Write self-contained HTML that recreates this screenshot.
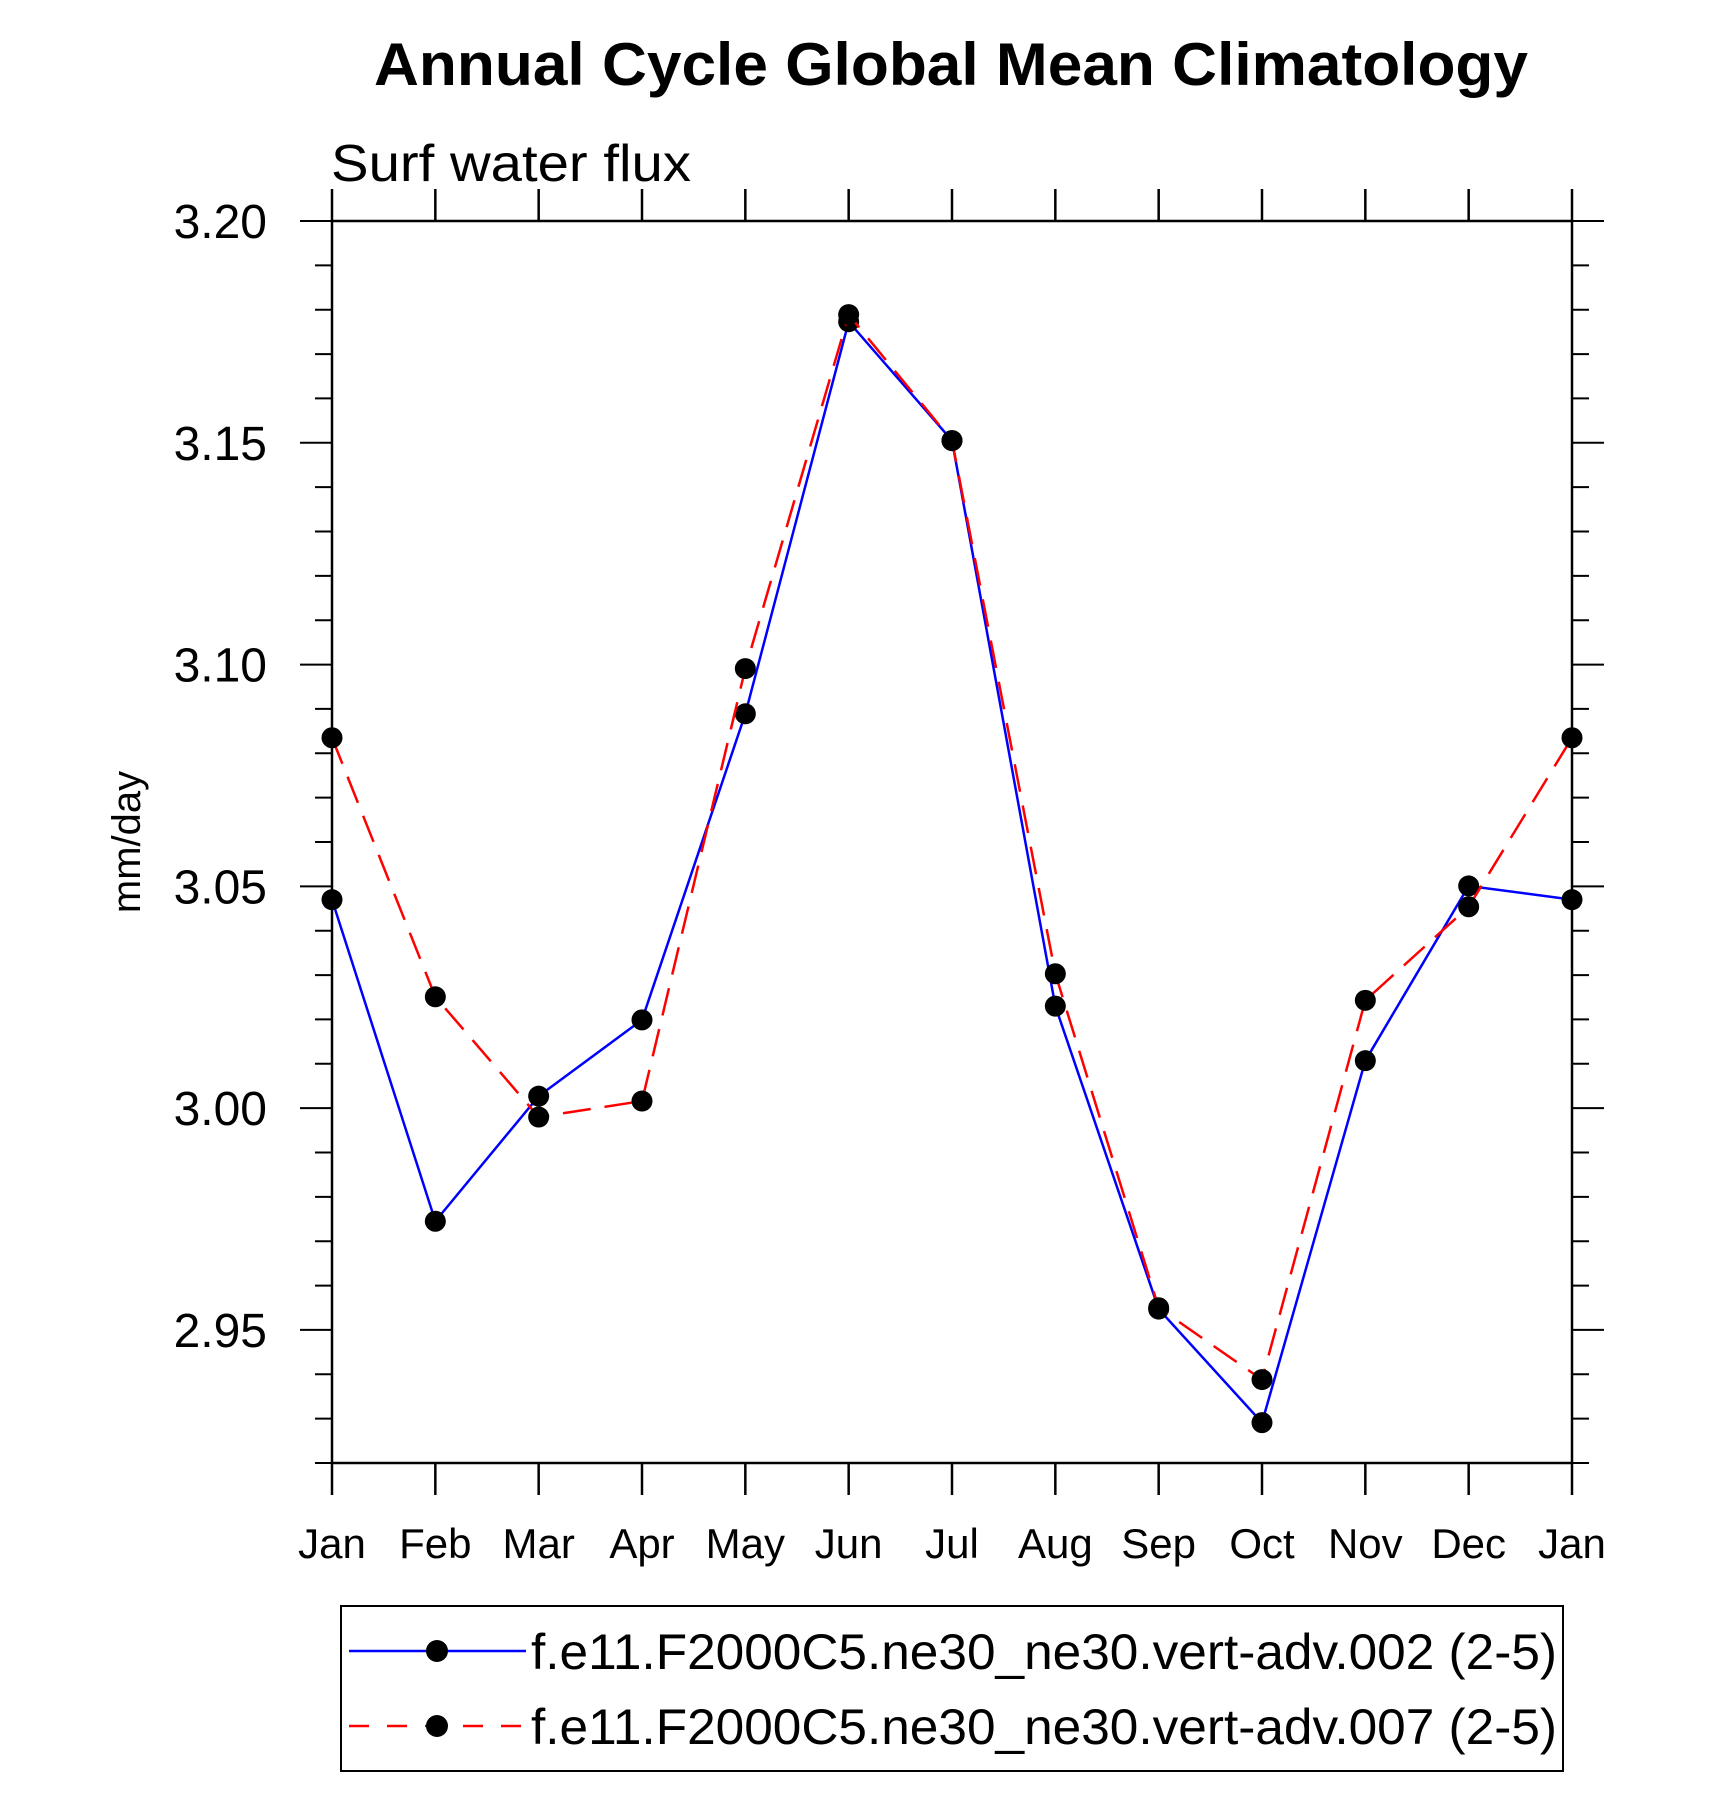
<!DOCTYPE html>
<html><head><meta charset="utf-8"><style>
html,body{margin:0;padding:0;background:#fff;}
svg{display:block;font-family:"Liberation Sans",sans-serif;}
</style></head><body>
<svg id="chart" width="1710" height="1813" viewBox="0 0 1710 1813" xmlns="http://www.w3.org/2000/svg">
<text x="951" y="85" text-anchor="middle" font-size="60" font-weight="bold" textLength="1154" lengthAdjust="spacingAndGlyphs">Annual Cycle Global Mean Climatology</text>
<text x="331" y="181" font-size="52" textLength="360" lengthAdjust="spacingAndGlyphs">Surf water flux</text>
<text transform="translate(140,842) rotate(-90)" text-anchor="middle" font-size="40">mm/day</text>
<g id="axes"></g>
<g id="series"></g>
<g>
<rect x="341" y="1606" width="1222" height="165" fill="none" stroke="#000" stroke-width="2"/>
<g>
<line x1="349" y1="1651" x2="526" y2="1651" stroke="#0000ff" stroke-width="2.5"/>
<circle cx="437" cy="1651" r="11" fill="#000"/>
<text x="531" y="1669" font-size="50" textLength="1026" lengthAdjust="spacingAndGlyphs">f.e11.F2000C5.ne30_ne30.vert-adv.002 (2-5)</text>
</g>
<g>
<line x1="349" y1="1726" x2="526" y2="1726" stroke="#ff0000" stroke-width="2.5" stroke-dasharray="20,18"/>
<circle cx="437" cy="1726" r="11" fill="#000"/>
<text x="531" y="1744" font-size="50" textLength="1026" lengthAdjust="spacingAndGlyphs">f.e11.F2000C5.ne30_ne30.vert-adv.007 (2-5)</text>
</g>
</g>
</svg>
<script>
const months = ["Jan","Feb","Mar","Apr","May","Jun","Jul","Aug","Sep","Oct","Nov","Dec","Jan"];
const series002 = [3.047,2.9745,3.0027,3.0199,3.0889,3.1773,3.1505,3.023,2.9547,2.9291,3.0107,3.0501,3.047];
const series007 = [3.0835,3.0251,2.998,3.0016,3.0991,3.1789,3.1505,3.0303,2.955,2.9388,3.0243,3.0454,3.0835];
const yTickLabels = ["2.95","3.00","3.05","3.10","3.15","3.20"];

const L=332,R=1572,T=221,B=1463,yMin=2.92,yMax=3.20;
const NS="http://www.w3.org/2000/svg";
const xs=i=>L+(R-L)*i/(months.length-1);
const ys=v=>B-(B-T)*(v-yMin)/(yMax-yMin);
function mk(tag,attrs,parent){const e=document.createElementNS(NS,tag);for(const k in attrs)e.setAttribute(k,attrs[k]);parent.appendChild(e);return e;}
const ax=document.getElementById('axes');
const frame=mk('rect',{x:L,y:T,width:R-L,height:B-T,fill:'none',stroke:'#000','stroke-width':2.5},ax);


months.forEach((m,i)=>{
  const x=xs(i);
  mk('line',{x1:x,y1:B,x2:x,y2:B+32,stroke:'#000','stroke-width':2.5},ax);
  mk('line',{x1:x,y1:T,x2:x,y2:T-32,stroke:'#000','stroke-width':2.5},ax);
  const t=mk('text',{x:x,y:1558,'text-anchor':'middle','font-size':42},ax);
  t.textContent=m;
  
  
});
for(let k=0;k<=28;k++){
  const v=yMin+k*0.01, y=ys(v);
  const major=(k+2)%5===0;
  const len=major?32:17;
  mk('line',{x1:L-len,y1:y,x2:L,y2:y,stroke:'#000','stroke-width':2},ax);
  mk('line',{x1:R,y1:y,x2:R+len,y2:y,stroke:'#000','stroke-width':2},ax);
}
yTickLabels.forEach(s=>{
  const y=ys(parseFloat(s));
  const t=mk('text',{x:267,y:y+17,'text-anchor':'end','font-size':48},ax);
  t.textContent=s;
  
  
});
const sg=document.getElementById('series');
function draw(vals,color,dash,name){
  const g=mk('g',{},sg);
  
  
  const p=mk('polyline',{points:vals.map((v,i)=>xs(i)+','+ys(v)).join(' '),fill:'none',stroke:color,'stroke-width':2.5},g);
  if(dash)p.setAttribute('stroke-dasharray',dash);
  
  
  vals.forEach((v,i)=>{
    const c=mk('circle',{cx:xs(i),cy:ys(v),r:10.5,fill:'#000'},g);
    
    
  });
}
draw(series002,'#0000ff',null,'series-002');
draw(series007,'#ff0000','28,14','series-007');
</script>
</body></html>
